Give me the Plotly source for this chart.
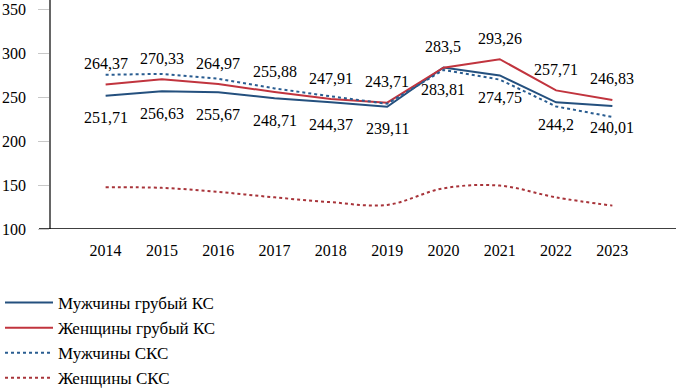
import plotly.graph_objects as go

years = ["2014", "2015", "2016", "2017", "2018", "2019", "2020", "2021", "2022", "2023"]
men_crude = [251.71, 256.63, 255.67, 248.71, 244.37, 239.11, 283.81, 274.75, 244.2, 240.01]
women_crude = [264.37, 270.33, 264.97, 255.88, 247.91, 243.71, 283.5, 293.26, 257.71, 246.83]
men_std = [275.5, 276.5, 271.0, 260.0, 251.0, 242.5, 281.0, 270.0, 239.5, 227.5]
women_std = [147.4, 146.8, 142.2, 136.0, 130.5, 127.4, 146.3, 149.4, 136.0, 126.6]
y_ticks = [100, 150, 200, 250, 300, 350]

BLUE = "#24507e"
RED = "#c1343e"
BLUE_D = "#2a5d91"
RED_D = "#a8343a"
FONT = "Liberation Serif, Times New Roman, serif"

fig = go.Figure()
fig.add_trace(go.Scatter(x=years, y=men_crude, mode="lines", name="Мужчины грубый КС",
                         line=dict(color=BLUE, width=2)))
fig.add_trace(go.Scatter(x=years, y=women_crude, mode="lines", name="Женщины грубый КС",
                         line=dict(color=RED, width=2)))
fig.add_trace(go.Scatter(x=years, y=men_std, mode="lines", name="Мужчины СКС",
                         line=dict(color=BLUE_D, width=2, dash="dot")))
fig.add_trace(go.Scatter(x=years, y=women_std, mode="lines", name="Женщины СКС",
                         line=dict(color=RED_D, width=2, dash="dot", shape="spline")))


def fmt(v):
    return str(v).replace(".", ",")


annotations = []
for i, yv in enumerate(women_crude):
    annotations.append(dict(x=i, y=yv, xref="x", yref="y", text=fmt(yv), showarrow=False,
                            yshift=21, font=dict(family=FONT, size=16, color="black")))
for i, yv in enumerate(men_crude):
    annotations.append(dict(x=i, y=yv, xref="x", yref="y", text=fmt(yv), showarrow=False,
                            yshift=-22, font=dict(family=FONT, size=16, color="black")))

W, H = 681, 389
L, R, T, B = 51, 5, 0, 160
pw = W - L - R
ph = H - T - B

fig.update_layout(
    width=W, height=H,
    margin=dict(l=L, r=R, t=T, b=B, autoexpand=False),
    paper_bgcolor="white", plot_bgcolor="white",
    font=dict(family=FONT, size=16, color="black"),
    showlegend=True,
    legend=dict(x=-L / pw, y=-(285 - ph) / ph, xanchor="left", yanchor="top",
                traceorder="normal", itemwidth=48,
                font=dict(family=FONT, size=17, color="black"),
                bgcolor="rgba(0,0,0,0)"),
    annotations=annotations,
    shapes=[dict(type="line", xref="paper", yref="y", x0=-12 / pw, x1=1, y0=100, y1=100,
                 line=dict(color="black", width=1.5), layer="above")],
    xaxis=dict(type="category", range=[-0.97, 10.13], showgrid=False, zeroline=False,
               showline=False, ticks="", ticklabelstandoff=10,
               tickfont=dict(family=FONT, size=16, color="black")),
    yaxis=dict(range=[100, 360.6], tickvals=y_ticks, showgrid=False, zeroline=False,
               showline=True, linecolor="#666666", linewidth=1.5,
               ticks="outside", ticklen=11, tickcolor="#c8c8c8", tickwidth=1,
               ticklabelstandoff=9,
               tickfont=dict(family=FONT, size=16, color="black")),
)

fig.write_html("out.html", config={"displayModeBar": False},
               post_script="document.body.style.margin='0';document.body.style.overflow='hidden';")
